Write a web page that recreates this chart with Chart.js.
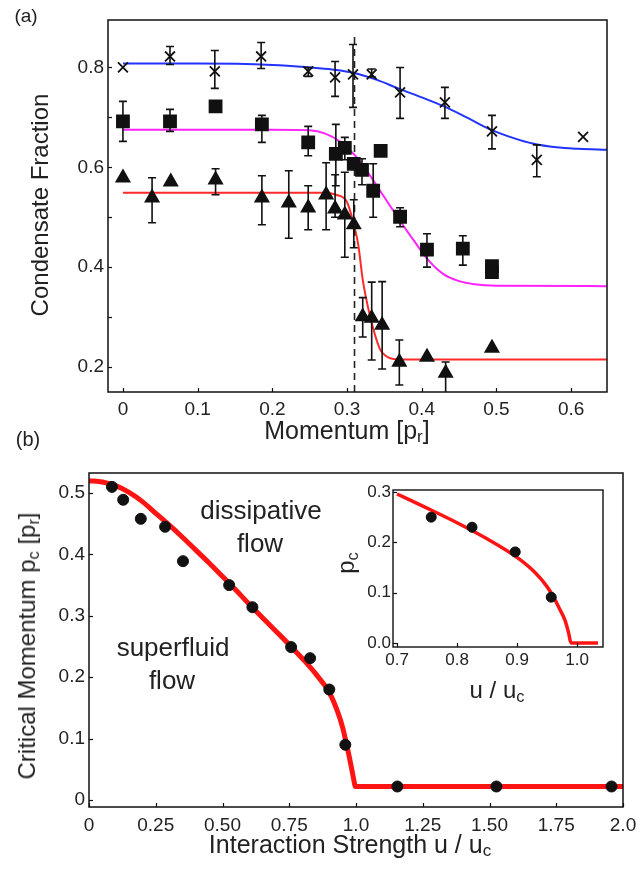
<!DOCTYPE html>
<html>
<head>
<meta charset="utf-8">
<script src="https://cdn.jsdelivr.net/npm/chart.js@4.4.1/dist/chart.umd.min.js"></script>
<style>
  html, body { margin: 0; padding: 0; background: #fff; overflow: hidden; }
  #wrap { position: relative; width: 639px; height: 869px; background: #fff;
          font-family: "Liberation Sans", Arial, Helvetica, sans-serif; color: #222; }
  canvas { position: absolute; }
  .lbl { position: absolute; white-space: nowrap; transform: translate(-50%, -50%); line-height: 1; }
  .rot { transform: translate(-50%, -50%) rotate(-90deg); }
  sub { font-size: 68%; vertical-align: -0.22em; line-height: 0; }
</style>
</head>
<body>
<div id="wrap">
  <canvas id="chartA" width="639" height="440" style="left:0;top:0"></canvas>
  <canvas id="chartB" width="639" height="419" style="left:0;top:450px"></canvas>
  <canvas id="chartC" width="300" height="230" style="left:330px;top:470px"></canvas>

  <div class="lbl" style="left:26px;top:15px;font-size:19px">(a)</div>
  <div class="lbl rot" style="left:40px;top:205px;font-size:24px">Condensate Fraction</div>
  <div class="lbl" style="left:347px;top:430px;font-size:25px">Momentum [p<sub>r</sub>]</div>

  <div class="lbl" style="left:28px;top:439px;font-size:20px">(b)</div>
  <div class="lbl rot" style="left:27px;top:646px;font-size:24px">Critical Momentum p<sub>c</sub> [p<sub>r</sub>]</div>
  <div class="lbl" style="left:350px;top:844px;font-size:25px">Interaction Strength u / u<sub>c</sub></div>
  <div class="lbl" style="left:261px;top:510px;font-size:26px">dissipative</div>
  <div class="lbl" style="left:260px;top:543px;font-size:26px">flow</div>
  <div class="lbl" style="left:173px;top:647px;font-size:26px">superfluid</div>
  <div class="lbl" style="left:172px;top:680px;font-size:26px">flow</div>

  <div class="lbl rot" style="left:346px;top:563px;font-size:24px">p<sub>c</sub></div>
  <div class="lbl" style="left:497px;top:690px;font-size:24px">u / u<sub>c</sub></div>
</div>

<script>
// ---- Panel (a): condensate fraction vs momentum ----
const crossX  = [0, 0.063, 0.123, 0.185, 0.248, 0.284, 0.308, 0.333, 0.371, 0.431, 0.494, 0.554, 0.616];
const crossY  = [0.80, 0.822, 0.792, 0.822, 0.792, 0.78, 0.786, 0.786, 0.75, 0.73, 0.672, 0.615, 0.661];
const crossLo = [null, 0.806, 0.758, 0.798, 0.782, 0.742, 0.72, 0.781, 0.698, 0.698, 0.637, 0.581, null];
const crossHi = [null, 0.842, 0.834, 0.85, 0.80, 0.812, 0.846, 0.797, 0.80, 0.76, 0.704, 0.645, null];

const sqX  = [0, 0.063, 0.124, 0.186, 0.248, 0.285, 0.297, 0.309, 0.32, 0.335, 0.345, 0.371, 0.407, 0.455, 0.494, 0.494];
const sqY  = [0.692, 0.692, 0.722, 0.686, 0.65, 0.627, 0.639, 0.607, 0.595, 0.553, 0.633, 0.501, 0.435, 0.437, 0.402, 0.39];
const sqLo = [0.652, 0.672, null, 0.65, 0.623, 0.563, 0.615, null, 0.565, 0.50, null, 0.481, 0.40, 0.404, null, null];
const sqHi = [0.732, 0.716, null, 0.704, 0.682, 0.686, 0.66, null, 0.617, 0.607, null, 0.519, 0.467, 0.463, null, null];

const triX  = [0, 0.039, 0.064, 0.124, 0.186, 0.222, 0.248, 0.272, 0.284, 0.297, 0.309, 0.321, 0.333, 0.347, 0.37, 0.407, 0.432, 0.494];
const triY  = [0.579, 0.539, 0.571, 0.575, 0.539, 0.529, 0.519, 0.545, 0.517, 0.505, 0.485, 0.301, 0.298, 0.284, 0.21, 0.22, 0.188, 0.238];
const triLo = [null, 0.489, null, 0.545, 0.485, 0.458, 0.475, 0.475, 0.50, 0.42, 0.439, 0.26, 0.214, 0.196, 0.164, null, 0.14, null];
const triHi = [null, 0.579, null, 0.597, 0.583, 0.593, 0.563, 0.609, 0.585, 0.59, 0.535, 0.339, 0.37, 0.371, 0.254, null, 0.21, null];

const blueFitX = [0, 0.1, 0.2, 0.25, 0.28, 0.31, 0.34, 0.37, 0.4, 0.43, 0.46, 0.49, 0.52, 0.55, 0.58, 0.61, 0.648];
const blueFitY = [0.808, 0.808, 0.805, 0.8, 0.796, 0.789, 0.775, 0.757, 0.74, 0.722, 0.7, 0.677, 0.66, 0.647, 0.64, 0.637, 0.635];
const magFitX = [0, 0.2, 0.25, 0.27, 0.29, 0.31, 0.33, 0.35, 0.37, 0.39, 0.41, 0.43, 0.45, 0.47, 0.5, 0.648];
const magFitY = [0.675, 0.675, 0.674, 0.668, 0.652, 0.625, 0.585, 0.54, 0.495, 0.452, 0.412, 0.385, 0.372, 0.366, 0.363, 0.362];
const redFitX = [0, 0.27, 0.285, 0.3, 0.31, 0.315, 0.321, 0.328, 0.335, 0.344, 0.352, 0.362, 0.38, 0.648];
const redFitY = [0.549, 0.549, 0.545, 0.53, 0.48, 0.445, 0.375, 0.32, 0.277, 0.236, 0.222, 0.216, 0.215, 0.215];

const critMomentum = 0.31;
const aXTicks = [0, 0.1, 0.2, 0.3, 0.4, 0.5, 0.6];
const aXLabels = ['0', '0.1', '0.2', '0.3', '0.4', '0.5', '0.6'];
const aYTicks = [0.2, 0.3, 0.4, 0.5, 0.6, 0.7, 0.8];
const aYLabels = ['0.2', '', '0.4', '', '0.6', '', '0.8'];

// ---- Panel (b): critical momentum vs interaction strength ----
const bX = [0.086, 0.128, 0.194, 0.285, 0.352, 0.525, 0.612, 0.757, 0.828, 0.90, 0.96, 1.155, 1.526, 1.957];
const bY = [0.51, 0.489, 0.458, 0.445, 0.389, 0.35, 0.314, 0.249, 0.231, 0.18, 0.09, 0.022, 0.022, 0.022];
const bFitX = [0, 0.05, 0.1, 0.15, 0.2, 0.25, 0.3, 0.35, 0.4, 0.45, 0.5, 0.55, 0.6, 0.65, 0.7, 0.75, 0.8, 0.85, 0.9, 0.93, 0.95, 0.965, 0.975, 0.985, 0.993, 0.997, 2.0];
const bFitY = [0.52, 0.518, 0.512, 0.501, 0.486, 0.467, 0.448, 0.428, 0.407, 0.386, 0.364, 0.342, 0.319, 0.297, 0.275, 0.253, 0.23, 0.205, 0.175, 0.145, 0.118, 0.09, 0.07, 0.048, 0.03, 0.022, 0.022];
const bXTicks = [0, 0.25, 0.5, 0.75, 1.0, 1.25, 1.5, 1.75, 2.0];
const bXLabels = ['0', '0.25', '0.50', '0.75', '1.0', '1.25', '1.50', '1.75', '2.0'];
const bYTicks = [0, 0.1, 0.2, 0.3, 0.4, 0.5];
const bYLabels = ['0', '0.1', '0.2', '0.3', '0.4', '0.5'];

// ---- inset ----
const inX = [0.757, 0.825, 0.897, 0.957];
const inY = [0.25, 0.23, 0.181, 0.091];
const inFitX = [0.7, 0.75, 0.8, 0.85, 0.9, 0.93, 0.95, 0.96, 0.97, 0.98, 0.986, 0.99, 1.035];
const inFitY = [0.296, 0.268, 0.239, 0.207, 0.17, 0.14, 0.112, 0.093, 0.07, 0.045, 0.02, 0.0, 0.0];
const cXTicks = [0.7, 0.8, 0.9, 1.0];
const cXLabels = ['0.7', '0.8', '0.9', '1.0'];
const cYTicks = [0, 0.1, 0.2, 0.3];
const cYLabels = ['0.0', '0.1', '0.2', '0.3'];

const FONT = '"Liberation Sans", Arial, Helvetica, sans-serif';

function pts(xs, ys) {
  return xs.map((x, i) => ({ x, y: ys[i] }));
}

// box frame + inward ticks
const boxTicks = {
  id: 'boxTicks',
  beforeDraw(chart) {
    const a = chart.chartArea;
    chart.ctx.save();
    chart.ctx.fillStyle = '#fff';
    chart.ctx.fillRect(a.left, a.top, a.width, a.height);
    chart.ctx.restore();
  },
  afterDatasetsDraw(chart, args, opts) {
    const { ctx, chartArea: a, scales } = chart;
    const len = opts.len || 4;
    ctx.save();
    ctx.strokeStyle = '#111';
    ctx.lineWidth = 1.2;
    scales.x.ticks.forEach(t => {
      const px = Math.round(scales.x.getPixelForValue(t.value)) + 0.5;
      ctx.beginPath(); ctx.moveTo(px, a.bottom); ctx.lineTo(px, a.bottom - len); ctx.stroke();
    });
    scales.y.ticks.forEach(t => {
      const py = Math.round(scales.y.getPixelForValue(t.value)) + 0.5;
      ctx.beginPath(); ctx.moveTo(a.left, py); ctx.lineTo(a.left + len, py); ctx.stroke();
    });
    ctx.lineWidth = opts.frame || 1.5;
    ctx.strokeRect(a.left, a.top, a.width, a.height);
    ctx.restore();
  }
};

// vertical error bars with caps, read from dataset.errLo / errHi
const errorBars = {
  id: 'errorBars',
  afterDatasetsDraw(chart) {
    const { ctx, chartArea: a, scales: { x, y } } = chart;
    ctx.save();
    ctx.beginPath();
    ctx.rect(a.left, a.top, a.width, a.height);
    ctx.clip();
    ctx.strokeStyle = '#111';
    ctx.lineWidth = 1.6;
    chart.data.datasets.forEach(ds => {
      if (!ds.errLo) return;
      ds.data.forEach((p, j) => {
        const lo = ds.errLo[j], hi = ds.errHi[j];
        if (lo == null) return;
        const px = x.getPixelForValue(p.x);
        const yl = y.getPixelForValue(lo), yh = y.getPixelForValue(hi);
        ctx.beginPath();
        ctx.moveTo(px, yl); ctx.lineTo(px, yh);
        ctx.moveTo(px - 4, yl); ctx.lineTo(px + 4, yl);
        ctx.moveTo(px - 4, yh); ctx.lineTo(px + 4, yh);
        ctx.stroke();
      });
    });
    ctx.restore();
  }
};

function axis(min, max, tickVals, tickLabels, size, pad, fontSize, isX) {
  return {
    type: 'linear', min, max,
    afterBuildTicks: s => { s.ticks = tickVals.map(v => ({ value: v })); },
    afterFit: s => {
      if (isX) s.height = size; else s.width = size;
      s.paddingLeft = s.paddingRight = s.paddingTop = s.paddingBottom = 0;
    },
    grid: { display: false, drawTicks: false },
    border: { display: false },
    ticks: {
      padding: pad, color: '#222', autoSkip: false, maxRotation: 0,
      font: { family: FONT, size: fontSize },
      callback: (v, i) => tickLabels[i]
    }
  };
}

function curve(xs, ys, color, width) {
  return {
    data: pts(xs, ys), showLine: true, pointRadius: 0,
    borderColor: color, borderWidth: width, cubicInterpolationMode: 'monotone'
  };
}

function markers(xs, ys, style, radius, lo, hi) {
  return {
    data: pts(xs, ys), showLine: false, pointStyle: style, pointRadius: radius,
    pointBackgroundColor: '#111', pointBorderColor: '#111', pointBorderWidth: 1.8,
    errLo: lo, errHi: hi
  };
}

const common = {
  responsive: false, animation: false, events: [],
  plugins: { legend: { display: false }, tooltip: { enabled: false } }
};

new Chart(document.getElementById('chartA'), {
  type: 'scatter',
  data: {
    datasets: [
      markers(crossX, crossY, 'crossRot', 7, crossLo, crossHi),
      markers(sqX, sqY, 'rect', 8.5, sqLo, sqHi),
      markers(triX, triY, 'triangle', 7.5, triLo, triHi),
      {
        data: pts([critMomentum, critMomentum], [0.15, 0.868]), showLine: true, pointRadius: 0,
        borderColor: '#222', borderWidth: 1.6, borderDash: [7, 5]
      },
      curve(blueFitX, blueFitY, '#2233ff', 2),
      curve(magFitX, magFitY, '#ff22ff', 2),
      curve(redFitX, redFitY, '#ff2a2a', 2)
    ]
  },
  options: {
    ...common,
    layout: { padding: { left: 0, top: 20, right: 32, bottom: 0 } },
    scales: {
      x: axis(-0.02, 0.648, aXTicks, aXLabels, 48, 6, 19, true),
      y: axis(0.15, 0.895, aYTicks, aYLabels, 108, 4, 19, false)
    },
    plugins: { ...common.plugins, boxTicks: { len: 4 } }
  },
  plugins: [boxTicks, errorBars]
});

new Chart(document.getElementById('chartB'), {
  type: 'scatter',
  data: {
    datasets: [
      { data: pts(bX, bY), showLine: false, pointStyle: 'circle', pointRadius: 5.5,
        pointBackgroundColor: '#111', pointBorderColor: '#111', pointBorderWidth: 1 },
      curve(bFitX, bFitY, '#ff1414', 5)
    ]
  },
  options: {
    ...common,
    layout: { padding: { left: 0, top: 23, right: 16, bottom: 0 } },
    scales: {
      x: axis(0, 2.0, bXTicks, bXLabels, 62, 7, 19, true),
      y: axis(-0.0114, 0.5326, bYTicks, bYLabels, 89, 4, 19, false)
    },
    plugins: { ...common.plugins, boxTicks: { len: 4 } }
  },
  plugins: [boxTicks]
});

new Chart(document.getElementById('chartC'), {
  type: 'scatter',
  data: {
    datasets: [
      { data: pts(inX, inY), showLine: false, pointStyle: 'circle', pointRadius: 5,
        pointBackgroundColor: '#111', pointBorderColor: '#111', pointBorderWidth: 1 },
      curve(inFitX, inFitY, '#ff1414', 3.5)
    ]
  },
  options: {
    ...common,
    layout: { padding: { left: 0, top: 20, right: 27, bottom: 0 } },
    scales: {
      x: axis(0.6933, 1.0433, cXTicks, cXLabels, 53, 3, 17, true),
      y: axis(-0.008, 0.304, cYTicks, cYLabels, 63, 2, 17, false)
    },
    plugins: { ...common.plugins, boxTicks: { len: 4, frame: 1.4 } }
  },
  plugins: [boxTicks]
});
</script>
</body>
</html>
